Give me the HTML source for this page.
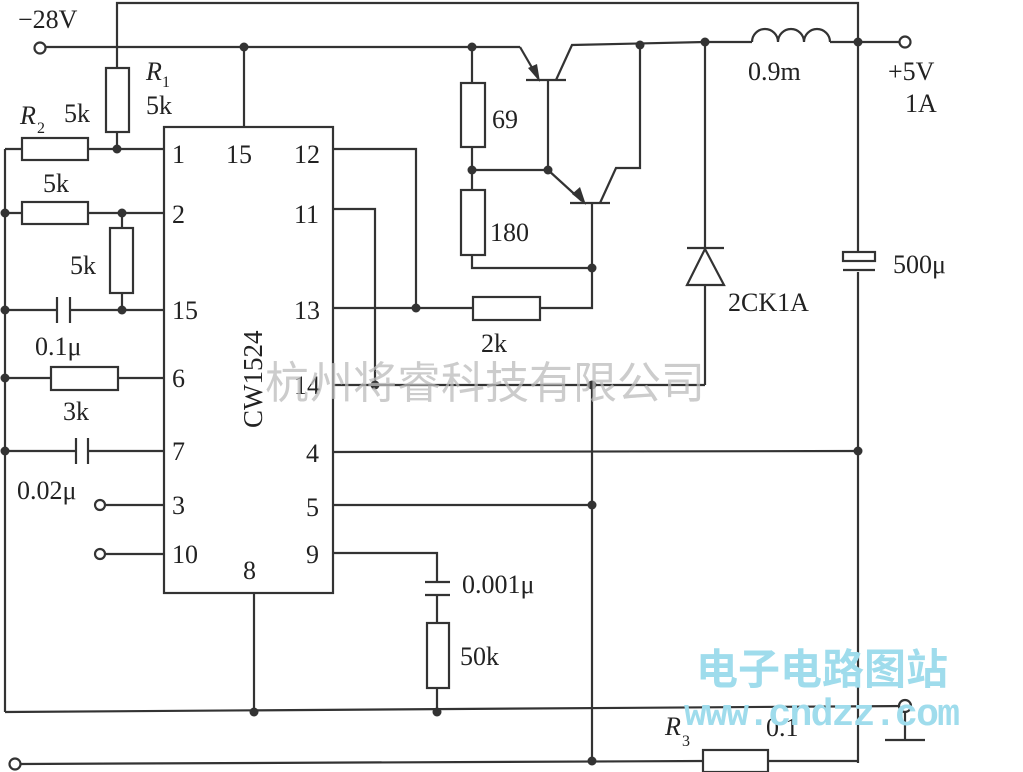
<!DOCTYPE html>
<html><head><meta charset="utf-8"><style>
html,body{margin:0;padding:0;background:#fff;}
svg{display:block;}
text{font-family:"Liberation Serif",serif;fill:#222;}
</style></head><body>
<svg width="1023" height="772" viewBox="0 0 1023 772" xmlns="http://www.w3.org/2000/svg">
<g stroke="#333" stroke-width="2.2" fill="none">
<polyline points="117,48 117,3 858,3 858,252"/>
<line x1="858" y1="272" x2="858" y2="763"/>
<line x1="46" y1="47" x2="520" y2="47"/>
<circle cx="40" cy="48" r="5.5" fill="#fff"/>
<line x1="244" y1="47" x2="244" y2="127"/>
<line x1="117" y1="48" x2="117" y2="68"/>
<rect x="106" y="68" width="23" height="64"/>
<line x1="117" y1="132" x2="117" y2="149"/>
<rect x="164" y="127" width="169" height="466"/>
<line x1="5" y1="149" x2="5" y2="712"/>
<line x1="5" y1="149" x2="22" y2="149"/><rect x="22" y="138" width="66" height="22"/><line x1="88" y1="149" x2="164" y2="149"/>
<line x1="5" y1="213" x2="22" y2="213"/><rect x="22" y="202" width="66" height="22"/><line x1="88" y1="213" x2="164" y2="213"/>
<line x1="122" y1="213" x2="122" y2="228"/><rect x="110" y="228" width="23" height="65"/><line x1="122" y1="293" x2="122" y2="310"/>
<line x1="5" y1="310" x2="57" y2="310"/><line x1="57" y1="297" x2="57" y2="323"/><line x1="70" y1="297" x2="70" y2="323"/><line x1="70" y1="310" x2="164" y2="310"/>
<line x1="5" y1="378" x2="51" y2="378"/><rect x="51" y="367" width="67" height="23"/><line x1="118" y1="378" x2="164" y2="378"/>
<line x1="5" y1="451" x2="76" y2="451"/><line x1="76" y1="438" x2="76" y2="464"/><line x1="88" y1="438" x2="88" y2="464"/><line x1="88" y1="451" x2="164" y2="451"/>
<line x1="105" y1="505" x2="164" y2="505"/><circle cx="100" cy="505" r="5" fill="#fff"/>
<line x1="105" y1="554" x2="164" y2="554"/><circle cx="100" cy="554" r="5" fill="#fff"/>
<line x1="254" y1="593" x2="254" y2="712"/>
<line x1="5" y1="712" x2="905" y2="706"/>
<circle cx="905" cy="706" r="6" fill="#fff"/>
<line x1="905" y1="712" x2="905" y2="740"/><line x1="885" y1="740" x2="925" y2="740"/>
<polyline points="333,553 437,553 437,582"/>
<line x1="425" y1="582" x2="450" y2="582"/><line x1="425" y1="595" x2="450" y2="595"/>
<line x1="437" y1="595" x2="437" y2="623"/><rect x="427" y="623" width="22" height="65"/><line x1="437" y1="688" x2="437" y2="712"/>
<line x1="333" y1="452" x2="858" y2="451"/>
<line x1="333" y1="505" x2="592" y2="505"/>
<line x1="592" y1="385" x2="592" y2="763"/>
<line x1="21" y1="764" x2="703" y2="761"/><circle cx="15" cy="764" r="5.5" fill="#fff"/>
<rect x="703" y="750" width="65" height="22"/><line x1="768" y1="761" x2="858" y2="761"/>
<polyline points="333,149 416,149 416,308"/>
<polyline points="333,209 375,209 375,385"/>
<line x1="333" y1="308" x2="473" y2="308"/>
<rect x="473" y="297" width="67" height="23"/>
<polyline points="540,308 592,308 592,268 472,268 472,255"/>
<line x1="333" y1="385" x2="705" y2="385"/>
<line x1="472" y1="47" x2="472" y2="83"/><rect x="461" y="83" width="24" height="64"/><line x1="472" y1="147" x2="472" y2="190"/><rect x="461" y="190" width="24" height="65"/>
<line x1="472" y1="170" x2="548" y2="170"/>
<line x1="520" y1="47" x2="538" y2="78"/>
<line x1="526" y1="80" x2="566" y2="80"/>
<line x1="548" y1="80" x2="548" y2="170"/>
<polyline points="556,80 572,45 705,42"/>
<line x1="548" y1="170" x2="582" y2="201"/>
<line x1="570" y1="203" x2="610" y2="203"/>
<line x1="592" y1="203" x2="592" y2="268"/>
<polyline points="600,203 616,168 640,168 640,45"/>
<line x1="705" y1="42" x2="705" y2="248"/><line x1="705" y1="285" x2="705" y2="385"/>
<line x1="687" y1="248" x2="724" y2="248"/>
<polygon points="705,249 687,285 724,285"/>
<line x1="705" y1="42" x2="752" y2="42"/>
<path d="M752,42 a13,13 0 0 1 26,0 a13,13 0 0 1 26,0 a13,13 0 0 1 26,0"/>
<line x1="830" y1="42" x2="899" y2="42"/><circle cx="905" cy="42" r="5.5" fill="#fff"/>
<rect x="843" y="252" width="32" height="9"/>
<line x1="843" y1="270" x2="875" y2="270"/>
</g>
<g fill="#333">
<polygon points="540,82 528,68 537,64"/>
<polygon points="586,205 572,194 580,187"/>
</g>
<g fill="#333">
<circle cx="244" cy="47" r="4.5"/><circle cx="472" cy="47" r="4.5"/><circle cx="640" cy="45" r="4.5"/><circle cx="705" cy="42" r="4.5"/><circle cx="858" cy="42" r="4.5"/>
<circle cx="117" cy="149" r="4.5"/><circle cx="5" cy="213" r="4.5"/><circle cx="122" cy="213" r="4.5"/><circle cx="5" cy="310" r="4.5"/><circle cx="122" cy="310" r="4.5"/>
<circle cx="5" cy="378" r="4.5"/><circle cx="5" cy="451" r="4.5"/>
<circle cx="472" cy="170" r="4.5"/><circle cx="548" cy="170" r="4.5"/><circle cx="592" cy="268" r="4.5"/><circle cx="416" cy="308" r="4.5"/>
<circle cx="375" cy="385" r="4.5"/><circle cx="592" cy="385" r="4.5"/><circle cx="858" cy="451" r="4.5"/><circle cx="592" cy="505" r="4.5"/>
<circle cx="254" cy="712" r="4.5"/><circle cx="437" cy="712" r="4.5"/><circle cx="592" cy="761" r="4.5"/>
</g>
<g font-size="26">
<text x="18" y="28">−28V</text>
<text x="146" y="80" font-style="italic">R</text><text x="162" y="87" font-size="16">1</text>
<text x="146" y="114">5k</text>
<text x="20" y="124" font-style="italic">R</text><text x="37" y="133" font-size="16">2</text>
<text x="64" y="122">5k</text>
<text x="43" y="192">5k</text>
<text x="70" y="274">5k</text>
<text x="35" y="355">0.1μ</text>
<text x="63" y="420">3k</text>
<text x="17" y="499">0.02μ</text>
<text x="172" y="163">1</text><text x="226" y="163">15</text><text x="294" y="163">12</text>
<text x="172" y="223">2</text><text x="294" y="223">11</text>
<text x="172" y="319">15</text><text x="294" y="319">13</text>
<text x="172" y="387">6</text><text x="294" y="394">14</text>
<text x="172" y="460">7</text><text x="306" y="462">4</text>
<text x="172" y="514">3</text><text x="306" y="516">5</text>
<text x="172" y="563">10</text><text x="306" y="563">9</text>
<text x="243" y="579">8</text>
<text transform="translate(262,428) rotate(-90)" font-size="27">CW1524</text>
<text x="492" y="128">69</text>
<text x="490" y="241">180</text>
<text x="481" y="352">2k</text>
<text x="748" y="80">0.9m</text>
<text x="888" y="80">+5V</text>
<text x="905" y="112">1A</text>
<text x="893" y="273">500μ</text>
<text x="728" y="311">2CK1A</text>
<text x="462" y="593">0.001μ</text>
<text x="460" y="665">50k</text>
<text x="665" y="735" font-style="italic">R</text><text x="682" y="746" font-size="16">3</text>
<text x="766" y="736">0.1</text>
</g>
<text x="265" y="398" font-size="44" style="fill:#bbb;font-family:'Noto Sans CJK SC',sans-serif;" opacity="0.75">杭州将睿科技有限公司</text>
<text x="696" y="684" font-size="42" font-weight="bold" style="fill:#9fdcec;font-family:'Noto Sans CJK SC',sans-serif;">电子电路图站</text>
<text x="684" y="725" font-size="38" font-weight="bold" textLength="276" style="fill:#9fdcec;font-family:'Liberation Mono',monospace;">www.cndzz.com</text>
</svg>
</body></html>
